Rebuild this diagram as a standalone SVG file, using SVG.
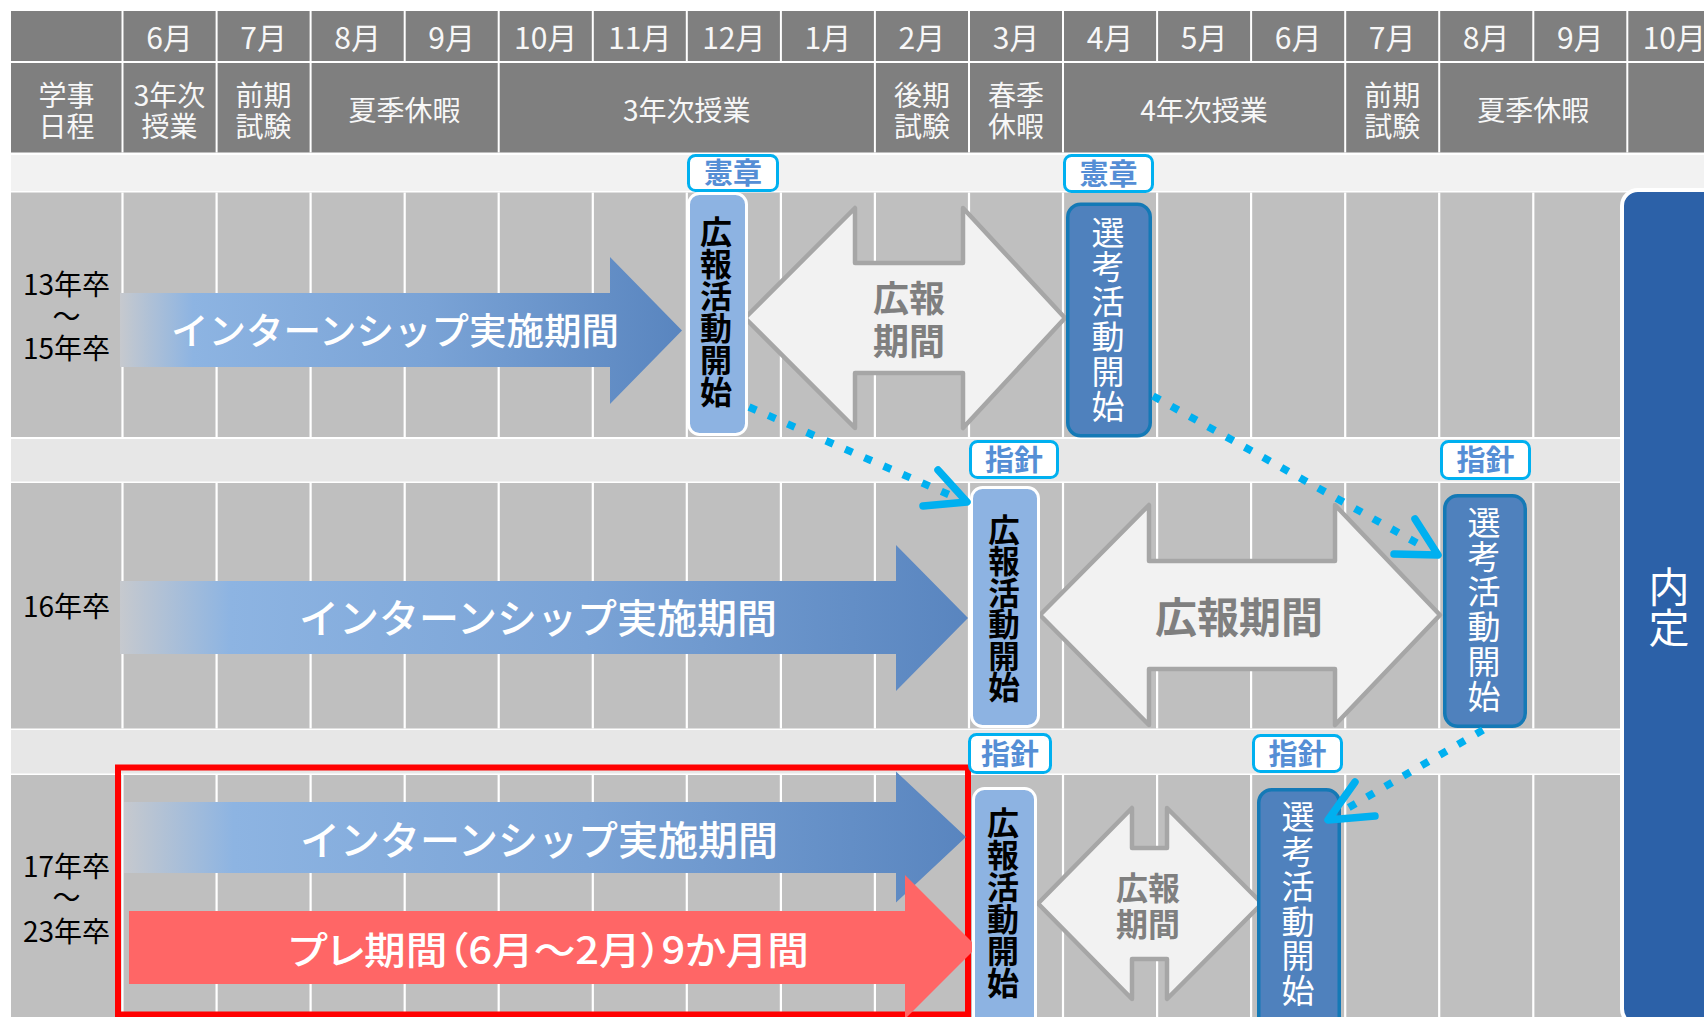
<svg xmlns="http://www.w3.org/2000/svg" width="1704" height="1017" viewBox="0 0 1704 1017">
<defs>
<linearGradient id="ig" x1="0" y1="0" x2="1" y2="0">
<stop offset="0" stop-color="#c6c9ce"/>
<stop offset="0.13" stop-color="#8db4e2"/>
<stop offset="0.55" stop-color="#7aa3d6"/>
<stop offset="1" stop-color="#5985bf"/>
</linearGradient>
</defs>
<style>
text{font-family:"Noto Sans CJK JP","Noto Sans",sans-serif}
.hd{fill:#7f7f7f}
.hl{stroke:#fff;stroke-width:2}
.ht{fill:#f7f7f7;font-size:30px;text-anchor:middle}
.ht2{fill:#f7f7f7;font-size:28px;text-anchor:middle}
.row{fill:#bfbfbf}
.band1{fill:#f2f2f2}
.band{fill:#e7e7e7}
.gl{stroke:#fff;stroke-width:2.2}
.lbl{font-size:28px;text-anchor:middle;fill:#000}
.intern{fill:url(#ig)}
.it{fill:#fff;font-size:40px;text-anchor:middle;font-weight:500}
.pre{fill:#ff6666}
.dbl{fill:#f2f2f2;stroke:#a6a6a6;stroke-width:4.5;stroke-linejoin:round}
.dt{fill:#7f7f7f;font-weight:bold;text-anchor:middle}
.tag{fill:#fff;stroke:#00b0f0;stroke-width:3}
.tagt{fill:#558ed5;font-size:29px;font-weight:bold;text-anchor:middle}
.kb{fill:#8db3e2;stroke:#fff;stroke-width:3}
.kbt{fill:#000;font-size:32px;font-weight:bold;text-anchor:middle;writing-mode:vertical-rl}
.sb{fill:#4f81bd;stroke:#1479b6;stroke-width:3.5}
.sbt{fill:#fff;font-size:33px;text-anchor:middle;writing-mode:vertical-rl;letter-spacing:1.8px}
.dot{fill:none;stroke:#00b0f0;stroke-width:7.5;stroke-dasharray:8 13}
.ah{fill:none;stroke:#00b0f0;stroke-width:7.5;stroke-linecap:round;stroke-linejoin:round}
</style>
<rect width="1704" height="1017" fill="#fff"/>

<g id="header">
<rect class="hd" x="11" y="11" width="1693" height="141.5"/>
<line class="hl" x1="11" y1="62" x2="1704" y2="62"/>
<g class="hl">
<line x1="122.5" y1="11" x2="122.5" y2="62"/><line x1="216.6" y1="11" x2="216.6" y2="62"/><line x1="310.6" y1="11" x2="310.6" y2="62"/><line x1="404.7" y1="11" x2="404.7" y2="62"/><line x1="498.7" y1="11" x2="498.7" y2="62"/><line x1="592.8" y1="11" x2="592.8" y2="62"/><line x1="686.8" y1="11" x2="686.8" y2="62"/><line x1="780.9" y1="11" x2="780.9" y2="62"/><line x1="874.9" y1="11" x2="874.9" y2="62"/><line x1="969" y1="11" x2="969" y2="62"/><line x1="1063" y1="11" x2="1063" y2="62"/><line x1="1157.1" y1="11" x2="1157.1" y2="62"/><line x1="1251.1" y1="11" x2="1251.1" y2="62"/><line x1="1345.2" y1="11" x2="1345.2" y2="62"/><line x1="1439.2" y1="11" x2="1439.2" y2="62"/><line x1="1533.3" y1="11" x2="1533.3" y2="62"/><line x1="1627.3" y1="11" x2="1627.3" y2="62"/>
<line x1="122.5" y1="62" x2="122.5" y2="152.5"/><line x1="216.6" y1="62" x2="216.6" y2="152.5"/><line x1="310.6" y1="62" x2="310.6" y2="152.5"/><line x1="498.7" y1="62" x2="498.7" y2="152.5"/><line x1="874.9" y1="62" x2="874.9" y2="152.5"/><line x1="969" y1="62" x2="969" y2="152.5"/><line x1="1063" y1="62" x2="1063" y2="152.5"/><line x1="1345.2" y1="62" x2="1345.2" y2="152.5"/><line x1="1439.2" y1="62" x2="1439.2" y2="152.5"/><line x1="1627.3" y1="62" x2="1627.3" y2="152.5"/>
</g>
<g class="ht">
<text x="169.5" y="49.4">6月</text><text x="263.6" y="49.4">7月</text><text x="357.6" y="49.4">8月</text><text x="451.7" y="49.4">9月</text><text x="545.7" y="49.4">10月</text><text x="639.8" y="49.4">11月</text><text x="733.8" y="49.4">12月</text><text x="827.9" y="49.4">1月</text><text x="921.9" y="49.4">2月</text><text x="1016" y="49.4">3月</text><text x="1110" y="49.4">4月</text><text x="1204.1" y="49.4">5月</text><text x="1298.1" y="49.4">6月</text><text x="1392.2" y="49.4">7月</text><text x="1486.2" y="49.4">8月</text><text x="1580.3" y="49.4">9月</text><text x="1674.3" y="49.4">10月</text>
</g>
<g class="ht2">
<text><tspan x="66.5" y="105.6">学事</tspan><tspan x="66.5" y="136.6">日程</tspan></text>
<text><tspan x="169.5" y="105.6">3年次</tspan><tspan x="169.5" y="136.6">授業</tspan></text>
<text><tspan x="263.6" y="105.6">前期</tspan><tspan x="263.6" y="136.6">試験</tspan></text>
<text x="404.6" y="120.6">夏季休暇</text>
<text x="686.8" y="120.6">3年次授業</text>
<text><tspan x="921.9" y="105.6">後期</tspan><tspan x="921.9" y="136.6">試験</tspan></text>
<text><tspan x="1016" y="105.6">春季</tspan><tspan x="1016" y="136.6">休暇</tspan></text>
<text x="1204" y="120.6">4年次授業</text>
<text><tspan x="1392.2" y="105.6">前期</tspan><tspan x="1392.2" y="136.6">試験</tspan></text>
<text x="1533.3" y="120.6">夏季休暇</text>
</g>
</g>

<g id="grid">
<rect class="band1" x="11" y="155" width="1693" height="36"/>
<rect class="row" x="11" y="192.5" width="1693" height="244.5"/>
<rect class="band" x="11" y="439" width="1693" height="42.5"/>
<rect class="row" x="11" y="483" width="1693" height="245.5"/>
<rect class="band" x="11" y="730" width="1693" height="43.5"/>
<rect class="row" x="11" y="775" width="1693" height="242"/>
<g class="gl">
<path d="M122.5 192.5V437M216.6 192.5V437M310.6 192.5V437M404.7 192.5V437M498.7 192.5V437M592.8 192.5V437M686.8 192.5V437M780.9 192.5V437M874.9 192.5V437M969 192.5V437M1063 192.5V437M1157.1 192.5V437M1251.1 192.5V437M1345.2 192.5V437M1439.2 192.5V437M1533.3 192.5V437"/>
<path d="M122.5 483V728.5M216.6 483V728.5M310.6 483V728.5M404.7 483V728.5M498.7 483V728.5M592.8 483V728.5M686.8 483V728.5M780.9 483V728.5M874.9 483V728.5M969 483V728.5M1063 483V728.5M1157.1 483V728.5M1251.1 483V728.5M1345.2 483V728.5M1439.2 483V728.5M1533.3 483V728.5"/>
<path d="M122.5 775V1017M216.6 775V1017M310.6 775V1017M404.7 775V1017M498.7 775V1017M592.8 775V1017M686.8 775V1017M780.9 775V1017M874.9 775V1017M969 775V1017M1063 775V1017M1157.1 775V1017M1251.1 775V1017M1345.2 775V1017M1439.2 775V1017M1533.3 775V1017"/>
</g>
</g>

<g id="row-labels" class="lbl">
<text><tspan x="66.5" y="295.3">13年卒</tspan><tspan x="66.5" y="326.6">～</tspan><tspan x="66.5" y="359.4">15年卒</tspan></text>
<text x="66.5" y="617">16年卒</text>
<text><tspan x="66.5" y="876.6">17年卒</tspan><tspan x="66.5" y="908.2">～</tspan><tspan x="66.5" y="941.6">23年卒</tspan></text>
</g>

<g id="intern-1">
<polygon class="intern" points="120,293 610,293 610,257 682,330.5 610,404 610,367 120,367"/>
<text class="it" x="395" y="345" style="font-size:37px" textLength="448" lengthAdjust="spacingAndGlyphs">インターンシップ実施期間</text>
</g>
<g id="intern-2">
<polygon class="intern" points="120,581 896,581 896,545 968,618 896,691 896,654 120,654"/>
<text class="it" x="538" y="632.5" textLength="478" lengthAdjust="spacingAndGlyphs">インターンシップ実施期間</text>
</g>

<g id="pr-period-1">
<polygon class="dbl" points="745,318 855,208 855,263 963,263 963,208 1065,318 963,428 963,373 855,373 855,428"/>
<text class="dt" style="font-size:36px"><tspan x="909" y="311.7">広報</tspan><tspan x="909" y="355">期間</tspan></text>
</g>
<g id="pr-period-2">
<polygon class="dbl" points="1040,615 1149,505 1149,561 1335,561 1335,505 1440,615 1335,725 1335,669 1149,669 1149,725"/>
<text class="dt" x="1239" y="633" style="font-size:42px">広報期間</text>
</g>
<g id="pr-period-3">
<polygon class="dbl" points="1038,903.5 1132,808 1132,848 1167,848 1167,808 1262,903.5 1167,999 1167,959 1132,959 1132,999"/>
<text class="dt" style="font-size:32px"><tspan x="1148" y="900">広報</tspan><tspan x="1148" y="936">期間</tspan></text>
</g>

<g id="highlight">
<rect x="118" y="767.5" width="850" height="247" fill="none" stroke="#ff0000" stroke-width="6"/>
</g>
<g id="intern-3">
<polygon class="intern" points="124,802 896,802 896,771.5 966,837 896,902.5 896,873 124,873"/>
<text class="it" x="539" y="855" textLength="478" lengthAdjust="spacingAndGlyphs">インターンシップ実施期間</text>
</g>
<g id="pre-period">
<polygon class="pre" points="129,911 905,911 905,875 977,947 905,1019 905,984 129,984"/>
<text x="549" y="964" fill="#fff" text-anchor="middle" style="font-size:38px;font-weight:500;font-feature-settings:'palt'" textLength="520" lengthAdjust="spacingAndGlyphs">プレ期間（6月～2月）9か月間</text>
</g>

<g id="pr-start-1">
<rect class="kb" x="688.5" y="193.5" width="58" height="241" rx="11"/>
<text class="kbt" x="716" y="312">広報活動開始</text>
</g>
<g id="pr-start-2">
<rect class="kb" x="971.5" y="487.5" width="67" height="239" rx="11"/>
<text class="kbt" x="1004" y="608.5" style="font-size:31.5px">広報活動開始</text>
</g>
<g id="pr-start-3">
<rect class="kb" x="973.5" y="788.5" width="62" height="240" rx="11"/>
<text class="kbt" x="1003" y="903">広報活動開始</text>
</g>

<g id="sel-start-1">
<rect class="sb" x="1067.75" y="204.25" width="82.5" height="231.5" rx="13"/>
<text class="sbt" x="1108" y="320">選考活動開始</text>
</g>
<g id="sel-start-2">
<rect class="sb" x="1444.75" y="495.75" width="80.5" height="230.5" rx="13"/>
<text class="sbt" x="1484" y="610">選考活動開始</text>
</g>
<g id="sel-start-3">
<rect class="sb" x="1258.75" y="789.75" width="80.5" height="240" rx="13"/>
<text class="sbt" x="1298" y="904.5">選考活動開始</text>
</g>

<g id="tag-charter-1"><rect class="tag" x="688.5" y="155.5" width="89" height="35" rx="7"/><text class="tagt" x="733" y="184">憲章</text></g>
<g id="tag-charter-2"><rect class="tag" x="1064.5" y="155.5" width="88" height="36" rx="7"/><text class="tagt" x="1108.5" y="184.5">憲章</text></g>
<g id="tag-guide-1"><rect class="tag" x="970.5" y="441.5" width="87" height="36" rx="7"/><text class="tagt" x="1014" y="470.5">指針</text></g>
<g id="tag-guide-2"><rect class="tag" x="1441.5" y="441.5" width="88" height="37" rx="7"/><text class="tagt" x="1485.5" y="471">指針</text></g>
<g id="tag-guide-3"><rect class="tag" x="969.5" y="734.5" width="81" height="38" rx="7"/><text class="tagt" x="1010" y="764.5">指針</text></g>
<g id="tag-guide-4"><rect class="tag" x="1253.5" y="735.5" width="88" height="36" rx="7"/><text class="tagt" x="1297.5" y="764.5">指針</text></g>

<g id="naitei">
<rect x="1622" y="190" width="110" height="835" rx="16" fill="#2c61a8" stroke="#fff" stroke-width="4"/>
<text x="1669" y="607" fill="#fff" text-anchor="middle" style="font-size:41px;writing-mode:vertical-rl">内定</text>
</g>

<g id="connectors">
<path class="dot" d="M749 407L952 496"/>
<path class="ah" d="M938 470L967 502L923 506"/>
<path class="dot" d="M1153 396L1424 547"/>
<path class="ah" d="M1415 519L1438 555L1394 554"/>
<path class="dot" d="M1483 730L1341 812"/>
<path class="ah" d="M1355 782L1328 820L1375 816"/>
</g>
</svg>
